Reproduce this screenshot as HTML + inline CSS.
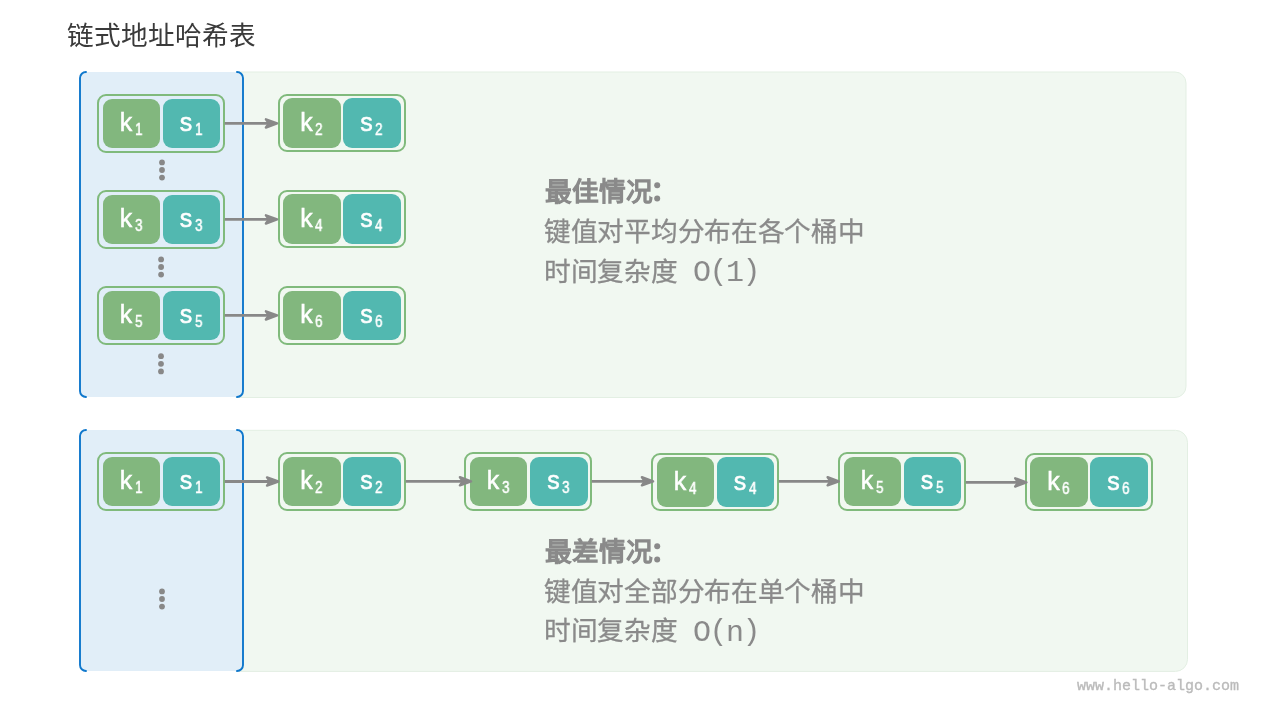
<!DOCTYPE html>
<html lang="zh-CN"><head><meta charset="utf-8">
<style>
html,body{margin:0;padding:0;background:#fff;width:1280px;height:720px;overflow:hidden;}
body{position:relative;font-family:"Liberation Sans",sans-serif;}
.title,.tx,.mono,.wm,.k,.s{will-change:transform;}
.title{position:absolute;left:67px;top:16px;font-size:26.67px;color:#3a3a3a;line-height:40px;white-space:nowrap;}
.gp{position:absolute;background:#f0f7f0;border:1px solid #e6f0e6;border-radius:11px;box-sizing:border-box;}
.bp{position:absolute;background:#e1eef8;border-left:2px solid #0a72c8;border-right:2px solid #0a72c8;border-radius:8px;box-sizing:border-box;}
.nd{position:absolute;width:128px;height:59px;border:2px solid #80ba7c;border-radius:9px;box-sizing:border-box;}
.k,.s{position:absolute;border-radius:9px;color:#fff;text-align:center;font-size:25px;}
.k{background:#82b77e;}
.s{background:#52b8b0;}
.t{display:inline-block;margin-left:-1px;-webkit-text-stroke:0.5px #fff;}
sub{font-size:16.5px;vertical-align:baseline;position:relative;top:4px;margin-left:2.5px;margin-right:-1.5px;display:inline-block;transform:scaleX(0.82);transform-origin:0 0;}
.tx{position:absolute;left:544px;font-size:26.67px;letter-spacing:-0.3px;color:#8a8a8a;line-height:40px;white-space:nowrap;-webkit-text-stroke:0.3px #8a8a8a;}
.b{font-weight:normal;-webkit-text-stroke:1.4px #8a8a8a;letter-spacing:0.1px;margin-left:1px;}
.colon{font-size:30px;line-height:0;margin-left:0px;-webkit-text-stroke:0.6px #8a8a8a;font-weight:bold;}
.mono{position:absolute;font-family:"Liberation Mono",monospace;font-size:30px;letter-spacing:-1.5px;line-height:40px;color:#8a8a8a;white-space:nowrap;}
.pr{position:relative;top:-1.5px;}
.wm{position:absolute;left:1077px;top:678px;font-family:"Liberation Mono",monospace;font-size:15px;color:#bbbbbb;-webkit-text-stroke:0.35px #bbbbbb;white-space:nowrap;}
svg{position:absolute;left:0;top:0;}
</style></head><body>
<div class="title">链式地址哈希表</div>
<svg width="1280" height="720" viewBox="0 0 1280 720" style="position:absolute;left:0;top:0">
<path d="M236 72 H1175 A11 11 0 0 1 1186 83 V386.5 A11 11 0 0 1 1175 397.5 H236 Z" fill="#f1f8f1" stroke="#e3efe3" stroke-width="1"/>
<path d="M236 430.3 H1175.5 A12 12 0 0 1 1187.5 442.3 V659.4 A12 12 0 0 1 1175.5 671.4 H236 Z" fill="#f1f8f1" stroke="#e3efe3" stroke-width="1"/>
<rect x="80" y="72" width="163" height="325" rx="7" fill="#e1eef8"/>
<rect x="80" y="430" width="163" height="241" rx="7" fill="#e1eef8"/>
<g fill="none" stroke="#0e77cc" stroke-width="1.9" stroke-linecap="round">
<path d="M86 72 A6 6 0 0 0 80 78 L80 391 A6 6 0 0 0 86 397"/>
<path d="M237 72 A6 6 0 0 1 243 78 L243 391 A6 6 0 0 1 237 397"/>
<path d="M86 430 A6 6 0 0 0 80 436 L80 665 A6 6 0 0 0 86 671"/>
<path d="M237 430 A6 6 0 0 1 243 436 L243 665 A6 6 0 0 1 237 671"/>
</g>
</svg>
<svg width="1280" height="720" viewBox="0 0 1280 720"><rect x="98" y="95" width="126" height="57" rx="8" fill="none" stroke="#80ba7c" stroke-width="2"/><rect x="279" y="95" width="126" height="56" rx="8" fill="none" stroke="#80ba7c" stroke-width="2"/><rect x="98" y="191" width="126" height="57" rx="8" fill="none" stroke="#80ba7c" stroke-width="2"/><rect x="279" y="191" width="126" height="56" rx="8" fill="none" stroke="#80ba7c" stroke-width="2"/><rect x="98" y="287" width="126" height="57" rx="8" fill="none" stroke="#80ba7c" stroke-width="2"/><rect x="279" y="287" width="126" height="57" rx="8" fill="none" stroke="#80ba7c" stroke-width="2"/><rect x="98" y="453" width="126" height="57" rx="8" fill="none" stroke="#80ba7c" stroke-width="2"/><rect x="279" y="453" width="126" height="57" rx="8" fill="none" stroke="#80ba7c" stroke-width="2"/><rect x="465" y="453" width="126" height="57" rx="8" fill="none" stroke="#80ba7c" stroke-width="2"/><rect x="652" y="454" width="126" height="56" rx="8" fill="none" stroke="#80ba7c" stroke-width="2"/><rect x="839" y="453" width="126" height="57" rx="8" fill="none" stroke="#80ba7c" stroke-width="2"/><rect x="1026" y="454" width="126" height="56" rx="8" fill="none" stroke="#80ba7c" stroke-width="2"/></svg>
<div class="k" style="left:103px;top:99px;width:57px;height:49px;line-height:47px"><span class="t">k<sub>1</sub></span></div>
<div class="s" style="left:163px;top:99px;width:57px;height:49px;line-height:47px"><span class="t">s<sub>1</sub></span></div>
<div class="k" style="left:283px;top:98px;width:58px;height:50px;line-height:48px"><span class="t">k<sub>2</sub></span></div>
<div class="s" style="left:343px;top:98px;width:58px;height:50px;line-height:48px"><span class="t">s<sub>2</sub></span></div>
<div class="k" style="left:103px;top:195px;width:57px;height:49px;line-height:47px"><span class="t">k<sub>3</sub></span></div>
<div class="s" style="left:163px;top:195px;width:57px;height:49px;line-height:47px"><span class="t">s<sub>3</sub></span></div>
<div class="k" style="left:283px;top:194px;width:58px;height:50px;line-height:48px"><span class="t">k<sub>4</sub></span></div>
<div class="s" style="left:343px;top:194px;width:58px;height:50px;line-height:48px"><span class="t">s<sub>4</sub></span></div>
<div class="k" style="left:103px;top:291px;width:57px;height:49px;line-height:47px"><span class="t">k<sub>5</sub></span></div>
<div class="s" style="left:163px;top:291px;width:57px;height:49px;line-height:47px"><span class="t">s<sub>5</sub></span></div>
<div class="k" style="left:283px;top:291px;width:58px;height:49px;line-height:47px"><span class="t">k<sub>6</sub></span></div>
<div class="s" style="left:343px;top:291px;width:58px;height:49px;line-height:47px"><span class="t">s<sub>6</sub></span></div>
<div class="k" style="left:103px;top:457px;width:57px;height:49px;line-height:47px"><span class="t">k<sub>1</sub></span></div>
<div class="s" style="left:163px;top:457px;width:57px;height:49px;line-height:47px"><span class="t">s<sub>1</sub></span></div>
<div class="k" style="left:283px;top:457px;width:58px;height:49px;line-height:47px"><span class="t">k<sub>2</sub></span></div>
<div class="s" style="left:343px;top:457px;width:58px;height:49px;line-height:47px"><span class="t">s<sub>2</sub></span></div>
<div class="k" style="left:470px;top:457px;width:57px;height:49px;line-height:47px"><span class="t">k<sub>3</sub></span></div>
<div class="s" style="left:530px;top:457px;width:58px;height:49px;line-height:47px"><span class="t">s<sub>3</sub></span></div>
<div class="k" style="left:657px;top:457px;width:57px;height:50px;line-height:48px"><span class="t">k<sub>4</sub></span></div>
<div class="s" style="left:717px;top:457px;width:57px;height:50px;line-height:48px"><span class="t">s<sub>4</sub></span></div>
<div class="k" style="left:844px;top:457px;width:57px;height:49px;line-height:47px"><span class="t">k<sub>5</sub></span></div>
<div class="s" style="left:904px;top:457px;width:57px;height:49px;line-height:47px"><span class="t">s<sub>5</sub></span></div>
<div class="k" style="left:1030px;top:457px;width:58px;height:50px;line-height:48px"><span class="t">k<sub>6</sub></span></div>
<div class="s" style="left:1090px;top:457px;width:58px;height:50px;line-height:48px"><span class="t">s<sub>6</sub></span></div>
<svg width="1280" height="720" viewBox="0 0 1280 720">
<line x1="224.7" y1="123.4" x2="268.9" y2="123.4" stroke="#888" stroke-width="2.8"/><path d="M277.09999999999997 123.4 L265.9 119.30000000000001 L268.9 123.4 L265.9 127.5 Z" fill="#888" stroke="#888" stroke-width="2.4" stroke-linejoin="round"/>
<line x1="224.7" y1="219.4" x2="268.9" y2="219.4" stroke="#888" stroke-width="2.8"/><path d="M277.09999999999997 219.4 L265.9 215.3 L268.9 219.4 L265.9 223.5 Z" fill="#888" stroke="#888" stroke-width="2.4" stroke-linejoin="round"/>
<line x1="224.7" y1="315.4" x2="268.9" y2="315.4" stroke="#888" stroke-width="2.8"/><path d="M277.09999999999997 315.4 L265.9 311.29999999999995 L268.9 315.4 L265.9 319.5 Z" fill="#888" stroke="#888" stroke-width="2.4" stroke-linejoin="round"/>
<line x1="224.7" y1="481.5" x2="270.0" y2="481.5" stroke="#888" stroke-width="2.8"/><path d="M278.2 481.5 L267.0 477.4 L270.0 481.5 L267.0 485.6 Z" fill="#888" stroke="#888" stroke-width="2.4" stroke-linejoin="round"/>
<line x1="405.7" y1="481.3" x2="462.9" y2="481.3" stroke="#888" stroke-width="2.8"/><path d="M471.09999999999997 481.3 L459.9 477.2 L462.9 481.3 L459.9 485.40000000000003 Z" fill="#888" stroke="#888" stroke-width="2.4" stroke-linejoin="round"/>
<line x1="591.7" y1="481.3" x2="644.9" y2="481.3" stroke="#888" stroke-width="2.8"/><path d="M653.1 481.3 L641.9 477.2 L644.9 481.3 L641.9 485.40000000000003 Z" fill="#888" stroke="#888" stroke-width="2.4" stroke-linejoin="round"/>
<line x1="778.7" y1="481.3" x2="830.6" y2="481.3" stroke="#888" stroke-width="2.8"/><path d="M838.8000000000001 481.3 L827.6 477.2 L830.6 481.3 L827.6 485.40000000000003 Z" fill="#888" stroke="#888" stroke-width="2.4" stroke-linejoin="round"/>
<line x1="965.7" y1="482.4" x2="1018.2" y2="482.4" stroke="#888" stroke-width="2.8"/><path d="M1026.4 482.4 L1015.2 478.29999999999995 L1018.2 482.4 L1015.2 486.5 Z" fill="#888" stroke="#888" stroke-width="2.4" stroke-linejoin="round"/>
<circle cx="657.2" cy="185.3" r="3" fill="#8a8a8a"/><circle cx="657.2" cy="198.6" r="3" fill="#8a8a8a"/><circle cx="657.2" cy="546.3" r="3" fill="#8a8a8a"/><circle cx="657.2" cy="559.6" r="3" fill="#8a8a8a"/><circle cx="162" cy="162.4" r="2.9" fill="#888"/><circle cx="162" cy="170.0" r="2.9" fill="#888"/><circle cx="162" cy="177.6" r="2.9" fill="#888"/><circle cx="161.1" cy="259.4" r="2.9" fill="#888"/><circle cx="161.1" cy="267.0" r="2.9" fill="#888"/><circle cx="161.1" cy="274.6" r="2.9" fill="#888"/><circle cx="161" cy="356.2" r="2.9" fill="#888"/><circle cx="161" cy="363.8" r="2.9" fill="#888"/><circle cx="161" cy="371.40000000000003" r="2.9" fill="#888"/><circle cx="162" cy="591.4" r="2.9" fill="#888"/><circle cx="162" cy="599.0" r="2.9" fill="#888"/><circle cx="162" cy="606.6" r="2.9" fill="#888"/>
</svg>
<div class="tx b" style="top:171.5px">最佳情况</div>
<div class="tx" style="top:211.5px">键值对平均分布在各个桶中</div>
<div class="tx" style="top:251.5px">时间复杂度</div>
<div class="mono" style="left:693px;top:252.5px">O<span class="pr">(</span>1<span class="pr">)</span></div>
<div class="tx b" style="top:532px">最差情况</div>
<div class="tx" style="top:571.5px">键值对全部分布在单个桶中</div>
<div class="tx" style="top:611px">时间复杂度</div>
<div class="mono" style="left:693px;top:612.5px">O<span class="pr">(</span>n<span class="pr">)</span></div>
<div class="wm">www.hello-algo.com</div>
</body></html>
